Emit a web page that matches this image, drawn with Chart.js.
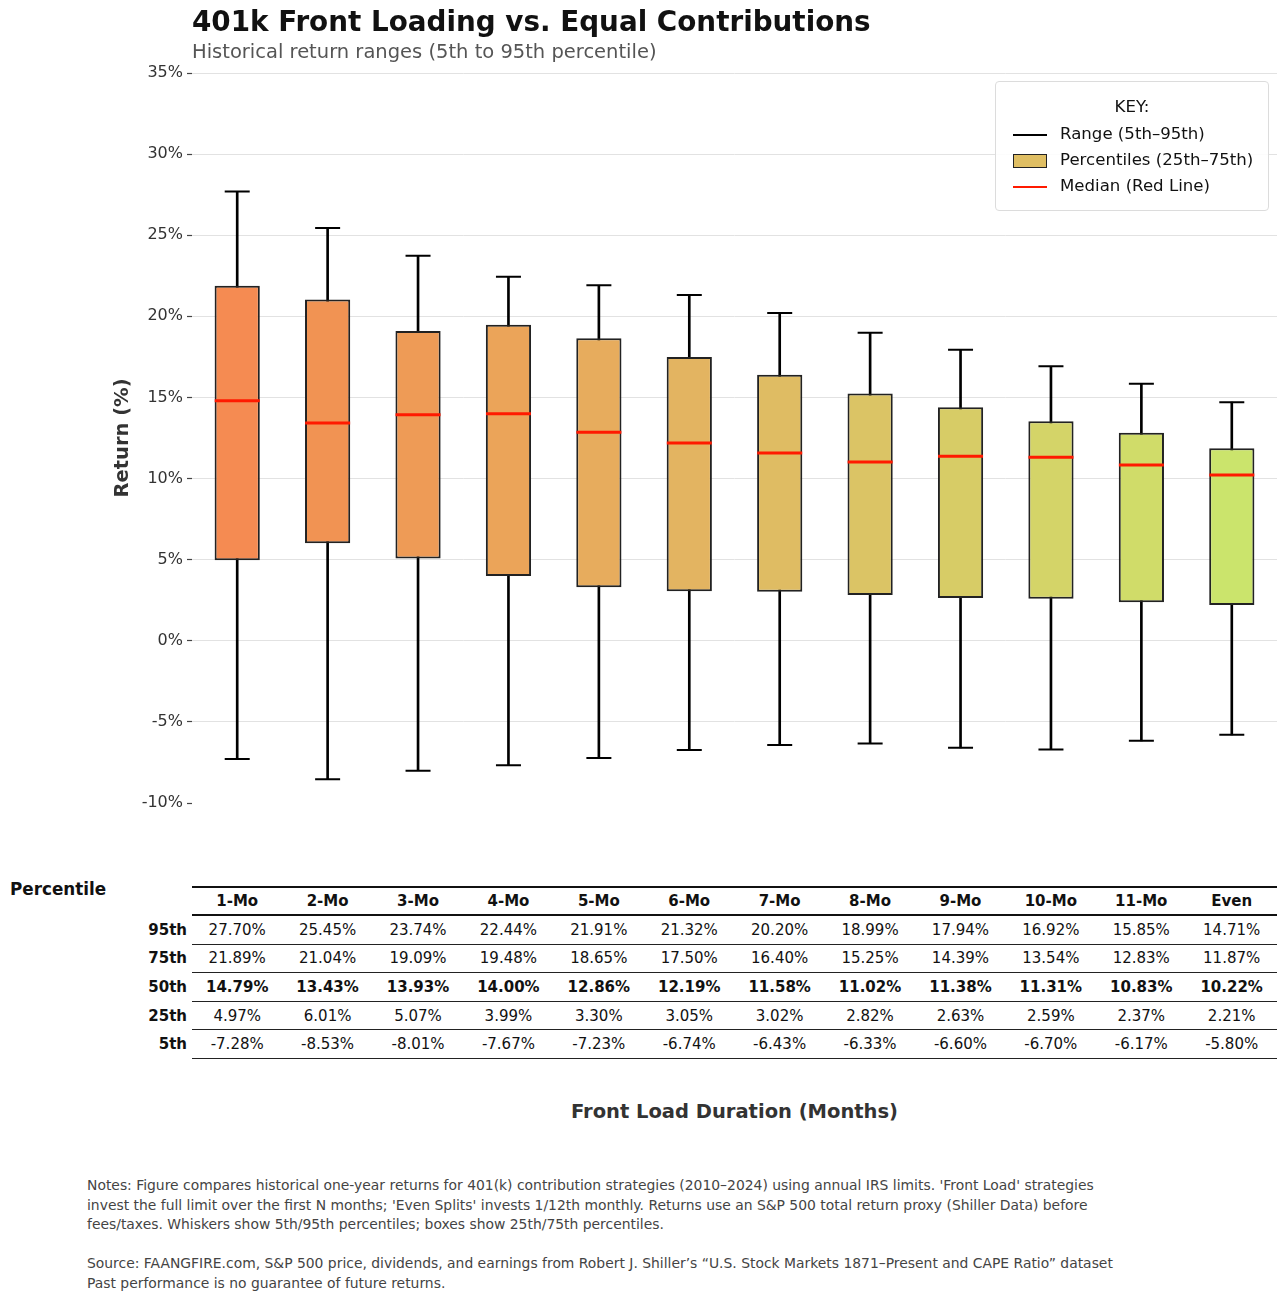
<!DOCTYPE html>
<html>
<head>
<meta charset="utf-8">
<script src="https://cdn.jsdelivr.net/npm/chart.js@4.4.1/dist/chart.umd.min.js"></script>
<style>
  body { margin: 0; background: #fff; font-family: "DejaVu Sans", sans-serif; }
  #page { position: relative; width: 1287px; height: 1301px; overflow: hidden; }
  #chart { position: absolute; left: 0; top: 0; }
  .abs { position: absolute; white-space: nowrap; }
  #title { left: 192px; top: 5px; font-size: 27.8px; font-weight: bold; color: #111; }
  #subtitle { left: 192px; top: 40px; font-size: 19.5px; color: #555; }
  #legend { left: 995px; top: 81px; width: 272px; height: 128px; border: 1px solid #dcdcdc; border-radius: 4px; background: rgba(255,255,255,0.9); }
  #legend .key { position: absolute; left: 0; width: 100%; top: 15px; text-align: center; font-size: 16.6px; color: #111; }
  #legend .item { position: absolute; left: 17px; font-size: 16.6px; color: #111; height: 20px; line-height: 20px; }
  #legend .sw { display: inline-block; width: 34px; vertical-align: middle; margin-right: 13px; }
  #pctLabel { left: 10px; top: 879px; font-size: 16.8px; font-weight: bold; color: #111; }
  #tbl { position: absolute; left: 102px; top: 886px; border-collapse: collapse; table-layout: fixed; }
  #tbl td { padding: 0; text-align: center; font-size: 15px; color: #111; height: 27.6px; }
  #tbl td.lab { width: 90px; text-align: right; padding-right: 5px; font-weight: bold; border: none; box-sizing: border-box; }
  #tbl td.d { width: 90.42px; border-bottom: 1.5px solid #222; }
  #tbl tr.hd td { height: 26px; }
  #tbl tr.hd td.d { font-weight: bold; border-top: 2px solid #111; border-bottom: 2px solid #111; }
  #tbl tr.med td { font-weight: bold; }
  #xtitle { left: 192px; width: 1085px; top: 1100px; text-align: center; font-size: 19.5px; font-weight: bold; color: #333; }
  #notes { left: 87px; top: 1176px; font-size: 13.9px; line-height: 19.6px; color: #444; white-space: pre; }
</style>
</head>
<body>
<div id="page">
  <canvas id="chart" width="1287" height="830"></canvas>
  <div id="title" class="abs">401k Front Loading vs. Equal Contributions</div>
  <div id="subtitle" class="abs">Historical return ranges (5th to 95th percentile)</div>
  <div id="legend" class="abs">
    <div class="key">KEY:</div>
    <div class="item" style="top:42px"><span class="sw" style="border-top:2.5px solid #000"></span>Range (5th–95th)</div>
    <div class="item" style="top:68px"><span class="sw" style="height:14px;background:#DFBE63;border:1.5px solid #222;box-sizing:border-box"></span>Percentiles (25th–75th)</div>
    <div class="item" style="top:94px"><span class="sw" style="border-top:2.5px solid #ff1a00"></span>Median (Red Line)</div>
  </div>
  <div id="pctLabel" class="abs">Percentile</div>
  <table id="tbl"></table>
  <div id="xtitle" class="abs">Front Load Duration (Months)</div>
  <div id="notes" class="abs">Notes: Figure compares historical one-year returns for 401(k) contribution strategies (2010–2024) using annual IRS limits. 'Front Load' strategies
invest the full limit over the first N months; 'Even Splits' invests 1/12th monthly. Returns use an S&amp;P 500 total return proxy (Shiller Data) before
fees/taxes. Whiskers show 5th/95th percentiles; boxes show 25th/75th percentiles.

Source: FAANGFIRE.com, S&amp;P 500 price, dividends, and earnings from Robert J. Shiller’s “U.S. Stock Markets 1871–Present and CAPE Ratio” dataset
Past performance is no guarantee of future returns.</div>
</div>
<script>
// Data (percent)
const labels = ['1-Mo', '2-Mo', '3-Mo', '4-Mo', '5-Mo', '6-Mo', '7-Mo', '8-Mo', '9-Mo', '10-Mo', '11-Mo', 'Even'];
const p95 = [27.70, 25.45, 23.74, 22.44, 21.91, 21.32, 20.20, 18.99, 17.94, 16.92, 15.85, 14.71];
const p75 = [21.89, 21.04, 19.09, 19.48, 18.65, 17.50, 16.40, 15.25, 14.39, 13.54, 12.83, 11.87];
const p50 = [14.79, 13.43, 13.93, 14.00, 12.86, 12.19, 11.58, 11.02, 11.38, 11.31, 10.83, 10.22];
const p25 = [4.97, 6.01, 5.07, 3.99, 3.30, 3.05, 3.02, 2.82, 2.63, 2.59, 2.37, 2.21];
const p5 = [-7.28, -8.53, -8.01, -7.67, -7.23, -6.74, -6.43, -6.33, -6.60, -6.70, -6.17, -5.80];
const yTicks = [-10, -5, 0, 5, 10, 15, 20, 25, 30, 35];

const boxColors = ['#F58B52', '#F19353', '#EE9B56', '#EBA459', '#E7AC5D', '#E3B461',
  '#DFBC63', '#DBC465', '#D7CC66', '#D4D468', '#D0DC69', '#CBE46C'];

// Table built from the same arrays
function fmt(v) { return v.toFixed(2) + '%'; }
const tbl = document.getElementById('tbl');
let html = '<tr class="hd"><td class="lab"></td>' + labels.map(l => `<td class="d">${l}</td>`).join('') + '</tr>';
const rows = [['95th', p95, ''], ['75th', p75, ''], ['50th', p50, 'med'], ['25th', p25, ''], ['5th', p5, '']];
rows.forEach(r => {
  html += `<tr class="${r[2]}"><td class="lab">${r[0]}</td>` + r[1].map(v => `<td class="d">${fmt(v)}</td>`).join('') + '</tr>';
});
tbl.innerHTML = html;

const ctx = document.getElementById('chart').getContext('2d');
new Chart(ctx, {
  type: 'bar',
  data: {
    labels: labels,
    datasets: [
      {
        // whisker stem
        type: 'bar',
        data: labels.map((_, i) => [p5[i], p95[i]]),
        backgroundColor: '#000',
        barThickness: 2,
        grouped: false,
        order: 5
      },
      {
        // interquartile box
        type: 'bar',
        data: labels.map((_, i) => [p25[i], p75[i]]),
        backgroundColor: boxColors,
        borderColor: '#222',
        borderWidth: 2,
        borderSkipped: false,
        categoryPercentage: 1,
        barPercentage: 0.5,
        grouped: false,
        order: 4
      },
      {
        type: 'line',
        data: p95,
        showLine: false,
        pointStyle: 'line',
        pointRadius: 12.5,
        pointBorderWidth: 2,
        pointBorderColor: '#000',
        order: 2
      },
      {
        type: 'line',
        data: p5,
        showLine: false,
        pointStyle: 'line',
        pointRadius: 12.5,
        pointBorderWidth: 2,
        pointBorderColor: '#000',
        order: 2
      },
      {
        // median
        type: 'line',
        data: p50,
        showLine: false,
        pointStyle: 'line',
        pointRadius: 22.5,
        pointBorderWidth: 3,
        pointBorderColor: '#ff1a00',
        order: 1
      }
    ]
  },
  options: {
    responsive: false,
    animation: false,
    events: [],
    layout: { autoPadding: false, padding: { left: 108, top: 73, right: 10, bottom: 27 } },
    plugins: { legend: { display: false }, tooltip: { enabled: false } },
    scales: {
      x: { display: false, offset: true, ticks: { display: false }, grid: { display: false } },
      y: {
        min: -10,
        max: 35,
        afterFit: (scale) => { scale.width = 84; },
        afterBuildTicks: (scale) => { scale.ticks = yTicks.map(v => ({ value: v })); },
        border: { display: false },
        grid: {
          color: (c) => (c.tick && c.tick.value === -10 ? 'rgba(0,0,0,0)' : '#e2e2e2'),
          lineWidth: 1,
          drawTicks: true,
          tickLength: 5,
          tickColor: '#444',
          tickWidth: 1.2
        },
        ticks: {
          padding: 4,
          color: '#333',
          font: { family: 'DejaVu Sans', size: 16 },
          callback: (v) => v + '%'
        },
        title: {
          display: true,
          text: 'Return (%)',
          color: '#333',
          padding: { top: 3, bottom: 4 },
          font: { family: 'DejaVu Sans', size: 19.5, weight: 'bold' }
        }
      }
    }
  }
});
</script>
</body>
</html>
